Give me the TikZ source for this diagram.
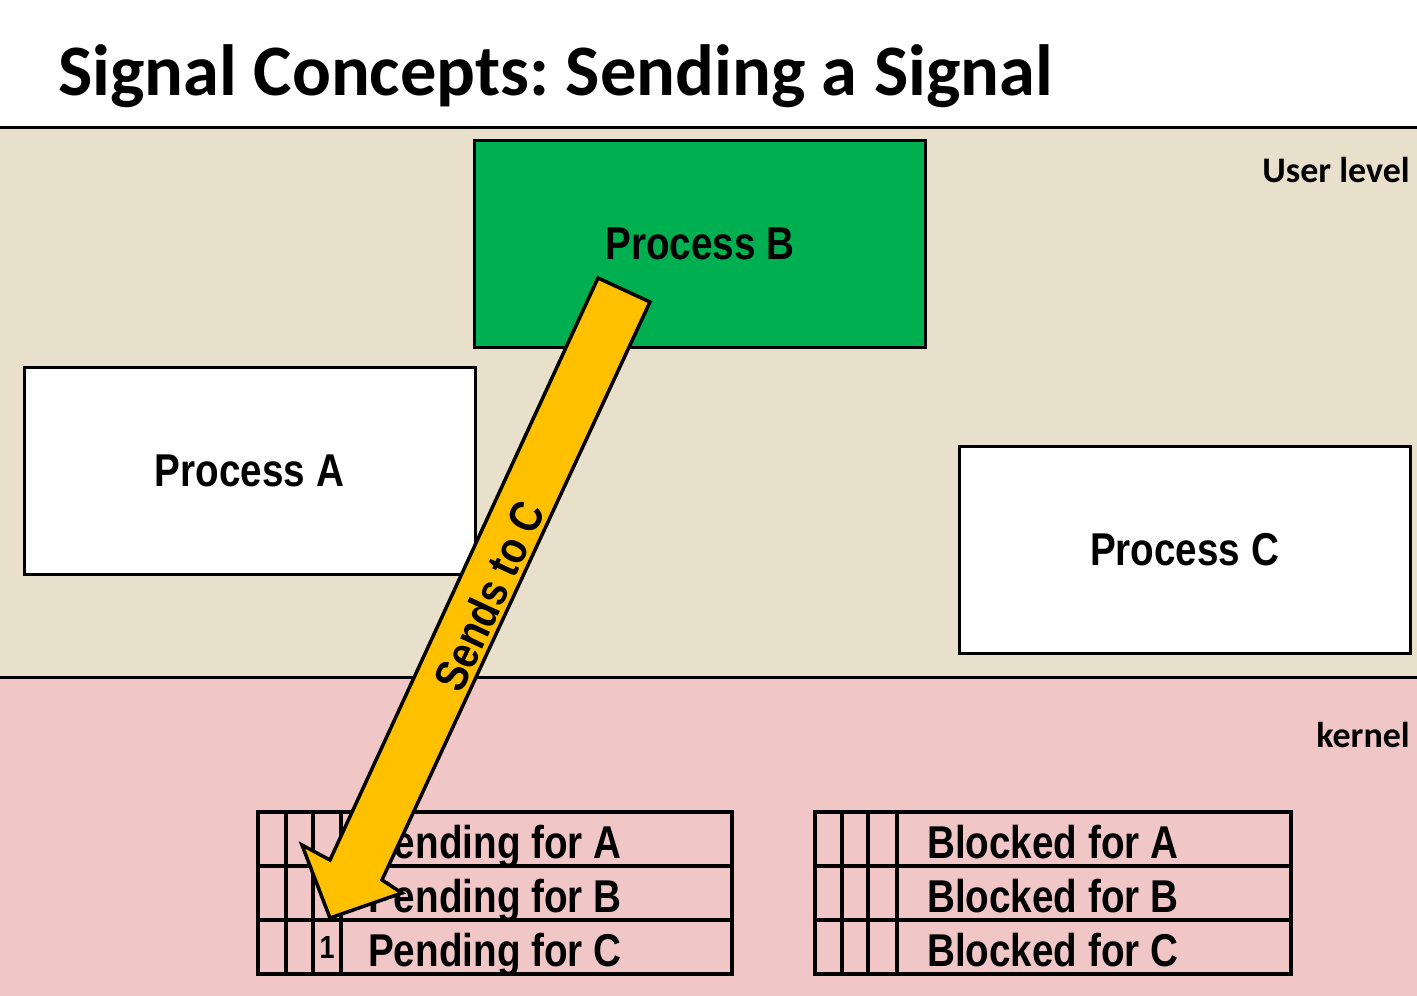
\documentclass[tikz,border=0pt]{standalone}
\usepackage{fontspec}
\newfontfamily\nb[FakeStretch=0.84]{Liberation Sans}
\newfontfamily\cb{Carlito}
\frenchspacing
\definecolor{userbg}{RGB}{232,224,202}
\definecolor{kernbg}{RGB}{241,198,198}
\definecolor{pgreen}{RGB}{0,176,80}
\definecolor{ayellow}{RGB}{255,192,0}
\tikzset{
  proc/.style={draw=black,line width=3pt,minimum width=451pt,minimum height=207pt,inner sep=0pt,font=\nb\bfseries\fontsize{46}{50}\selectfont},
  rowtxt/.style={anchor=base west,inner sep=0pt,font=\nb\bfseries\fontsize{46}{50}\selectfont},
  grid/.style={draw=black,line width=3.5pt},
  lvl/.style={anchor=base east,inner sep=0pt,font=\cb\bfseries\fontsize{36}{40}\selectfont}
}
\begin{document}
\begin{tikzpicture}[x=1pt,y=-1pt]
\useasboundingbox (0,0) rectangle (1417,996);
\fill[white] (0,0) rectangle (1417,996);
% regions
\fill[userbg] (0,127) rectangle (1417,677);
\fill[kernbg] (0,677) rectangle (1417,996);
\draw[line width=3pt] (0,127) -- (1417,127);
\draw[line width=3pt] (0,677) -- (1417,677);
% title
\node[anchor=base west,inner sep=0pt,font=\cb\bfseries\fontsize{72.5}{76}\selectfont] (title) at (58,95) {Signal Concepts: Sending a Signal};
\node[lvl] (user) at (1410,182) {User level};
\node[lvl] (kern) at (1410,747) {kernel};
% processes
\node[proc,fill=pgreen] (procB) at (700,243.5) {Process B};
\node[proc,fill=white] (procA) at (249.5,470.5) {Process A};
\node[proc,fill=white] (procC) at (1184.5,550) {Process C};
% pending table
\draw[grid] (258,812) rectangle (732,974);
\draw[grid] (258,866) -- (732,866);
\draw[grid] (258,920) -- (732,920);
\foreach \x in {286,313,341} \draw[grid] (\x,812) -- (\x,974);
\node[rowtxt] (pA) at (368,858) {Pending for A};
\node[rowtxt] (pB) at (368,912) {Pending for B};
\node[rowtxt] (pC) at (368,966) {Pending for C};
\node[anchor=base,inner sep=0pt,font=\nb\bfseries\fontsize{32}{34}\selectfont] (one) at (327,958) {1};
% blocked table
\draw[grid] (815,812) rectangle (1291,974);
\draw[grid] (815,866) -- (1291,866);
\draw[grid] (815,920) -- (1291,920);
\foreach \x in {842,868,897} \draw[grid] (\x,812) -- (\x,974);
\node[rowtxt] (bA) at (927,858) {Blocked for A};
\node[rowtxt] (bB) at (927,912) {Blocked for B};
\node[rowtxt] (bC) at (927,966) {Blocked for C};
% arrow
\coordinate (t1) at (598,278);
\coordinate (t2) at (650,302);
\coordinate (n2) at (382,880);
\coordinate (w2) at (402,893);
\coordinate (tip) at (330,918);
\coordinate (w1) at (302,845);
\coordinate (n1) at (330,860);
\filldraw[fill=ayellow,draw=black,line width=3.5pt,line join=miter] (t1) -- (t2) -- (n2) -- (w2) -- (tip) -- (w1) -- (n1) -- cycle;
\node[rotate=65,inner sep=0pt,font=\nb\bfseries\fontsize{46}{50}\selectfont] (sends) at (489,596) {Sends to C};
\end{tikzpicture}
\end{document}
